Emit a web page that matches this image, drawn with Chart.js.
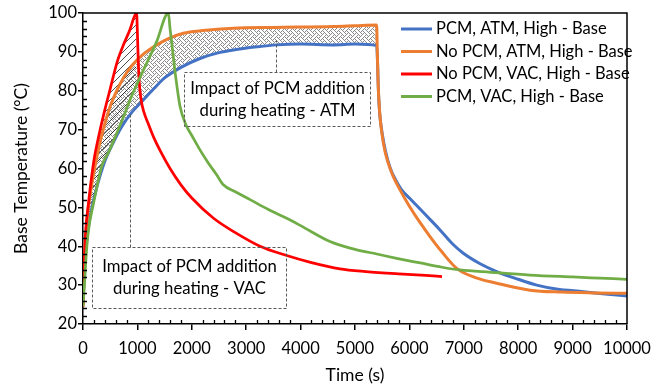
<!DOCTYPE html>
<html>
<head>
<meta charset="utf-8">
<script src="https://cdn.jsdelivr.net/npm/chart.js@4.4.0/dist/chart.umd.min.js"></script>
<style>
  html, body { margin: 0; padding: 0; background: #fff; }
</style>
</head>
<body>
<canvas id="chart" width="667" height="389"></canvas>
<script>
var FONT = "Lato";

// series names and colours
var seriesNames = ["PCM, ATM, High - Base", "No PCM, ATM, High - Base", "No PCM, VAC, High - Base", "PCM, VAC, High - Base"];
var seriesColors = ["#4472C4", "#ED7D31", "#FF0000", "#70AD47"];

// PCM, ATM (blue)
var timePcmAtm = [0, 30, 80, 150, 250, 404, 550, 700, 900, 1100, 1300, 1500, 1800, 2150, 2500, 2763, 3200, 3560, 4000, 4600, 5000, 5400,
  5415, 5430, 5455, 5500, 5560, 5650, 5750, 5858, 6000, 6200, 6400, 6563, 6800, 6991, 7300, 7604, 8000, 8340, 8700, 9200, 9600, 10000];
var tempPcmAtm = [25, 35, 43, 49, 55, 62, 66.5, 70.5, 74.5, 77.5, 80.5, 83.3, 86, 88.3, 89.8, 90.5, 91.3, 91.8, 92, 91.8, 92, 91.6,
  87, 80, 74, 69, 64.5, 60, 57, 54.5, 52.4, 49.5, 46.6, 44.2, 40.5, 38.2, 35.5, 33.5, 31.5, 30, 29, 28.3, 27.7, 27.2];

// No PCM, ATM (orange)
var timeNoPcmAtm = [0, 50, 100, 200, 300, 400, 500, 620, 750, 900, 1100, 1300, 1550, 1844, 2200, 2763, 3500, 4600, 5000, 5398,
  5410, 5425, 5450, 5490, 5550, 5620, 5704, 5827, 6000, 6200, 6379, 6600, 6869, 7200, 7604, 8217, 8800, 9400, 10000];
var tempNoPcmAtm = [25, 42, 50, 59, 66, 71.5, 76, 80, 83.5, 86.5, 89.3, 91.3, 93.3, 94.8, 95.5, 96.1, 96.3, 96.5, 96.7, 96.9,
  90, 82, 75, 69.5, 64.5, 61, 57.9, 54.5, 50.3, 46, 42.5, 38.5, 34.3, 32, 30.5, 28.7, 28.2, 28, 27.9];

// No PCM, VAC (red)
var timeNoPcmVac = [0, 20, 50, 100, 200, 300, 400, 500, 630, 750, 860, 985,
  1000, 1015, 1035, 1070, 1120, 1200, 1300, 1440, 1600, 1800, 2000, 2400, 2800, 3254, 3700, 4200, 4724, 5200, 5800, 6300, 6600];
var tempNoPcmVac = [24.4, 35, 44, 51, 62, 69, 75, 80.5, 87.5, 92, 95.6, 100,
  95, 88, 82, 77.5, 74.5, 71.5, 68, 64, 60, 55.8, 52.4, 47.2, 43.5, 40, 37.8, 35.8, 34.2, 33.5, 32.9, 32.5, 32.2];

// PCM, VAC (green)
var timePcmVac = [0, 30, 60, 100, 200, 343, 480, 619, 750, 864, 985, 1100, 1350, 1569,
  1600, 1650, 1700, 1783, 1900, 2000, 2150, 2300, 2450, 2580, 2800, 3070, 3400, 3744, 4000, 4540, 4724, 5000, 5400, 5766, 6200, 6600, 6930, 7500, 8217, 9000, 9500, 10000];
var tempPcmVac = [24.5, 31, 38, 44, 51.5, 60.5, 64.5, 69, 73.5, 77.6, 81.5, 85, 92.5, 100,
  96, 90, 84, 76, 71, 68.5, 64.8, 61.5, 58.5, 55.8, 54, 52, 49.5, 47.2, 45.3, 41.2, 40.3, 39.2, 38, 36.9, 35.7, 34.6, 33.9, 33.3, 32.6, 32.1, 31.8, 31.5];

// end of the heating phase used for the shaded areas
var heatEndAtm = 5400;
var heatEndVac = 985;

// axis ticks
var xMin = 0, xMax = 10000, xStep = 1000, xMinorStep = 200;
var yMin = 20, yMax = 100, yStep = 10, yMinorStep = 2;

// annotation boxes (data coordinates)
var notes = [
  { lines: ["Impact of PCM addition", "during heating - ATM"], x0: 1857, x1: 5276, y0: 84.8, y1: 70.9, leadX: 3548, leadY: 93.0 },
  { lines: ["Impact of PCM addition", "during heating - VAC"], x0: 165, x1: 3732, y0: 39.8, y1: 24.1, leadX: 864, leadY: 74.3 }
];

function toPoints(t, v, tMax) {
  var out = [];
  for (var i = 0; i < t.length; i++) {
    if (tMax === undefined || t[i] <= tMax) out.push({ x: t[i], y: v[i] });
  }
  return out;
}

function vacPattern() {
  var c = document.createElement("canvas");
  c.width = 7; c.height = 7;
  var g = c.getContext("2d");
  g.strokeStyle = "#000";
  g.lineWidth = 0.7;
  g.beginPath();
  g.moveTo(0, 7); g.lineTo(7, 0);
  g.moveTo(-1, 1); g.lineTo(1, -1);
  g.moveTo(6, 8); g.lineTo(8, 6);
  g.stroke();
  return g.createPattern(c, "repeat");
}

// weave-like bitmap tile
var weaveBits = [
  "10001000",
  "01010100",
  "00100010",
  "01000101",
  "10001000",
  "00010101",
  "00100010",
  "01010001"
];

function atmPattern() {
  var c = document.createElement("canvas");
  c.width = 8; c.height = 8;
  var g = c.getContext("2d");
  g.fillStyle = "#fff";
  g.fillRect(0, 0, 8, 8);
  g.fillStyle = "#8a8a8a";
  for (var r = 0; r < 8; r++) {
    for (var k = 0; k < 8; k++) {
      if (weaveBits[r][k] === "1") g.fillRect(k, r, 1, 1);
    }
  }
  return g.createPattern(c, "repeat");
}

function lineSet(i, pts, order, width) {
  return {
    label: seriesNames[i],
    data: pts,
    borderColor: seriesColors[i],
    backgroundColor: seriesColors[i],
    borderWidth: width,
    pointRadius: 0,
    cubicInterpolationMode: "monotone",
    fill: false,
    order: order
  };
}

function helperSet(pts, fillTarget, pattern, order) {
  return {
    label: "",
    data: pts,
    borderColor: "rgba(0,0,0,0)",
    borderWidth: 0,
    pointRadius: 0,
    cubicInterpolationMode: "monotone",
    fill: fillTarget === null ? false : { target: fillTarget },
    backgroundColor: pattern || "rgba(0,0,0,0)",
    order: order
  };
}

// frame, minor ticks, annotations and legend
var extras = {
  id: "extras",
  afterDraw: function(chart) {
    var ctx = chart.ctx, a = chart.chartArea;
    var xs = chart.scales.x, ys = chart.scales.y;
    ctx.save();

    // top and right frame
    ctx.strokeStyle = "#000";
    ctx.lineWidth = 1.5;
    ctx.beginPath();
    ctx.moveTo(a.left, a.top); ctx.lineTo(a.right, a.top); ctx.lineTo(a.right, a.bottom);
    ctx.stroke();

    // minor ticks, inside
    ctx.lineWidth = 1.3;
    ctx.beginPath();
    for (var t = xMin; t <= xMax; t += xMinorStep) {
      if (t % xStep === 0) continue;
      var px = Math.round(xs.getPixelForValue(t)) + 0.5;
      ctx.moveTo(px, a.bottom); ctx.lineTo(px, a.bottom - 4);
    }
    for (var v = yMin; v <= yMax; v += yMinorStep) {
      if (v % yStep === 0) continue;
      var py = Math.round(ys.getPixelForValue(v)) + 0.5;
      ctx.moveTo(a.left, py); ctx.lineTo(a.left + 4, py);
    }
    ctx.stroke();

    // annotation boxes
    ctx.strokeStyle = "#595959";
    ctx.lineWidth = 1;
    ctx.setLineDash([3, 2]);
    ctx.font = "16.7px " + FONT;
    ctx.textAlign = "center";
    ctx.textBaseline = "middle";
    notes.forEach(function(n) {
      var l = Math.round(xs.getPixelForValue(n.x0)) + 0.5;
      var r = Math.round(xs.getPixelForValue(n.x1)) + 0.5;
      var tp = Math.round(ys.getPixelForValue(n.y0)) + 0.5;
      var bt = Math.round(ys.getPixelForValue(n.y1)) + 0.5;
      ctx.strokeRect(l, tp, r - l, bt - tp);
      var lx = Math.round(xs.getPixelForValue(n.leadX)) + 0.5;
      ctx.beginPath();
      ctx.moveTo(lx, tp); ctx.lineTo(lx, ys.getPixelForValue(n.leadY));
      ctx.stroke();
      var cx = (l + r) / 2, cy = (tp + bt) / 2;
      ctx.fillStyle = "#000";
      ctx.fillText(n.lines[0], cx, cy - 11);
      ctx.fillText(n.lines[1], cx, cy + 11);
    });
    ctx.setLineDash([]);

    // legend
    ctx.font = "16.5px " + FONT;
    ctx.textAlign = "left";
    for (var i = 0; i < seriesNames.length; i++) {
      var y = 29 + i * 22.5;
      ctx.strokeStyle = seriesColors[i];
      ctx.lineWidth = 3;
      ctx.beginPath();
      ctx.moveTo(401, y); ctx.lineTo(432, y);
      ctx.stroke();
      ctx.fillStyle = "#000";
      ctx.fillText(seriesNames[i], 436, y);
    }
    ctx.restore();
  }
};

var tickFont = { family: FONT, size: 16.5 };
var titleFont = { family: FONT, size: 17.5, lineHeight: 1.2 };

new Chart(document.getElementById("chart"), {
  type: "line",
  data: {
    datasets: [
      lineSet(0, toPoints(timePcmAtm, tempPcmAtm), 4, 3),
      lineSet(1, toPoints(timeNoPcmAtm, tempNoPcmAtm), 3, 3),
      lineSet(2, toPoints(timeNoPcmVac, tempNoPcmVac), 2, 2.75),
      lineSet(3, toPoints(timePcmVac, tempPcmVac), 1, 2.75),
      helperSet(toPoints(timeNoPcmAtm, tempNoPcmAtm, heatEndAtm), 5, atmPattern(), 10),
      helperSet(toPoints(timePcmAtm, tempPcmAtm, heatEndAtm), null, null, 11),
      helperSet(toPoints(timeNoPcmVac, tempNoPcmVac, heatEndVac), 7, vacPattern(), 8),
      helperSet(toPoints(timePcmVac, tempPcmVac, heatEndVac), null, null, 9)
    ]
  },
  options: {
    responsive: false,
    animation: false,
    layout: { padding: { top: 13, right: 40, left: 0, bottom: 0 } },
    plugins: {
      legend: { display: false },
      tooltip: { enabled: false },
      filler: { drawTime: "beforeDatasetsDraw" }
    },
    scales: {
      x: {
        type: "linear",
        min: xMin, max: xMax,
        afterFit: function(s) { s.height = 65; },
        ticks: { stepSize: xStep, color: "#000", font: tickFont, padding: 9, maxRotation: 0, autoSkip: false,
          callback: function(v) { return String(v); } },
        grid: { display: true, drawOnChartArea: false, drawTicks: true, tickLength: 6, color: "#000", lineWidth: 1.5 },
        border: { display: true, color: "#000", width: 1.5 },
        title: { display: true, text: "Time (s)", color: "#000", font: titleFont, padding: { top: 0, bottom: 3 } }
      },
      y: {
        min: yMin, max: yMax,
        afterFit: function(s) { s.width = 83; },
        ticks: { stepSize: yStep, color: "#000", font: tickFont, padding: 1 },
        grid: { display: true, drawOnChartArea: false, drawTicks: true, tickLength: 5, color: "#000", lineWidth: 1.5 },
        border: { display: true, color: "#000", width: 1.5 },
        title: { display: true, text: "Base Temperature (°C)", color: "#000", font: titleFont, padding: { top: 11, bottom: 0 } }
      }
    }
  },
  plugins: [extras]
});
</script>
</body>
</html>
